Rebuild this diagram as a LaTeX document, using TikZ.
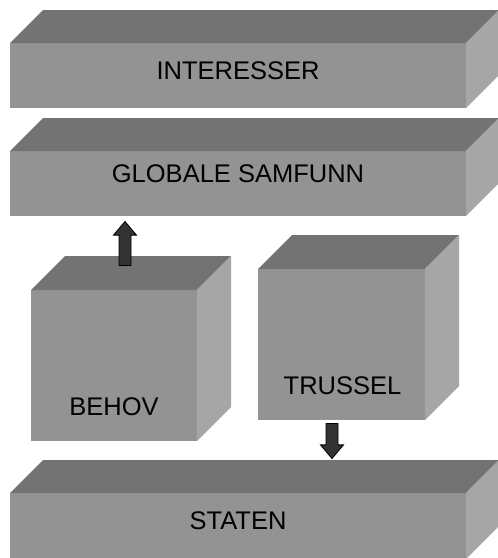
\documentclass[tikz,border=0pt]{standalone}
\usepackage{fontspec}
\setmainfont{Liberation Sans}
\usetikzlibrary{calc,shapes.arrows}
\definecolor{topc}{HTML}{737373}
\definecolor{frontc}{HTML}{939393}
\definecolor{sidec}{HTML}{A6A6A6}
\definecolor{arrc}{HTML}{333333}
\tikzset{
  frontface/.style={rectangle, fill=frontc, inner sep=0pt, outer sep=0pt, anchor=north west},
  topface/.style={fill=topc},
  sideface/.style={fill=sidec},
  lbl/.style={font=\fontsize{25.5}{30}\selectfont, anchor=base, inner sep=0pt},
  fatarrow/.style={single arrow, draw=black, line width=0.8pt, fill=arrc,
    minimum width=23pt, single arrow head extend=5.5pt, single arrow tip angle=80,
    single arrow head indent=0pt, inner xsep=0pt, inner ysep=5.6pt}
}
\newcommand\cubefaces[2]{%
  \fill[topface] (#1.north west) -- ++(#2,-#2) -- ($(#1.north east)+(#2,-#2)$) -- (#1.north east) -- cycle;
  \fill[sideface] (#1.north east) -- ++(#2,-#2) -- ($(#1.south east)+(#2,-#2)$) -- (#1.south east) -- cycle;
}
\begin{document}
\begin{tikzpicture}[x=1pt,y=-1pt]
\useasboundingbox (0,0) rectangle (498,558);
% INTERESSER
\node[frontface, minimum width=456pt, minimum height=65pt] (inter) at (10,43) {};
\cubefaces{inter}{33}
\node[lbl] (tinter) at ($(inter.center)+(0,3.5)$) {INTERESSER};
% GLOBALE SAMFUNN
\node[frontface, minimum width=456pt, minimum height=65pt] (glob) at (10,151) {};
\cubefaces{glob}{33}
\node[lbl] (tglob) at ($(glob.center)+(0,-1)$) {GLOBALE SAMFUNN};
% BEHOV
\node[frontface, minimum width=166pt, minimum height=151pt] (behov) at (31,290) {};
\cubefaces{behov}{34}
\node[lbl] (tbehov) at ($(behov.center)+(0,49.5)$) {BEHOV};
% TRUSSEL
\node[frontface, minimum width=167pt, minimum height=151pt] (truss) at (258,269) {};
\cubefaces{truss}{34}
\node[lbl] (ttruss) at ($(truss.center)+(1,49.5)$) {TRUSSEL};
% STATEN
\node[frontface, minimum width=456pt, minimum height=66pt] (staten) at (10,493) {};
\cubefaces{staten}{33}
\node[lbl] (tstaten) at ($(staten.center)+(0,3)$) {STATEN};
% arrows
\coordinate (upS) at ($(behov.north west)+(94,-21)$);
\coordinate (upE) at ($(glob.south west)+(115,9)$);
\node[fatarrow, minimum height=44pt, rotate=90] (uparr) at ($(upS)!0.5!(upE)$) {};
\coordinate (dnS) at ($(truss.south west)+(74,0)$);
\coordinate (dnE) at ($(staten.north west)+(322,-38)$);
\node[fatarrow, minimum height=35pt, rotate=-90] (dnarr) at ($(dnS)!0.5!(dnE)$) {};
\end{tikzpicture}
\end{document}
